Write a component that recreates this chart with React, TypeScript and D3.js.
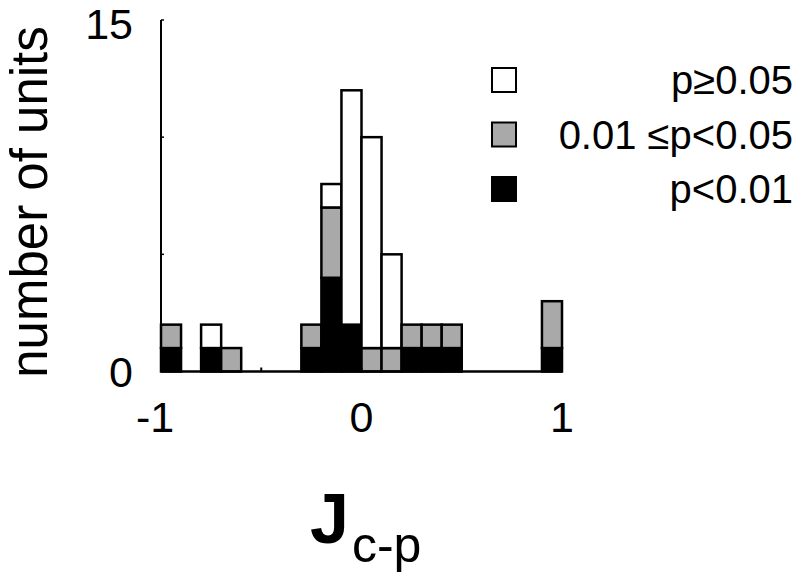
import React, { useRef, useEffect } from "react";
import * as d3 from "d3";

// left edge of each bin (width 0.1)
const binStarts = [-1, -0.9, -0.8, -0.7, -0.6, -0.5, -0.4, -0.3, -0.2, -0.1, 0, 0.1, 0.2, 0.3, 0.4, 0.5, 0.6, 0.7, 0.8, 0.9];
const countP001 = [1, 0, 1, 0, 0, 0, 0, 1, 4, 2, 0, 0, 1, 1, 1, 0, 0, 0, 0, 1];
const countP005 = [1, 0, 0, 1, 0, 0, 0, 1, 3, 0, 1, 1, 1, 1, 1, 0, 0, 0, 0, 2];
const countNs = [0, 0, 1, 0, 0, 0, 0, 0, 1, 10, 9, 4, 0, 0, 0, 0, 0, 0, 0, 0];

const xTicks = [-1, 0, 1];
const yTicks = [0, 15];
const legendLabels = ["p\u22650.05", "0.01 \u2264p<0.05", "p<0.01"];
const legendColors = ["#ffffff", "#a9a9a9", "#000000"];

const FONT = "'Liberation Sans', Arial, sans-serif";

const App = () => {
  const ref = useRef(null);

  useEffect(() => {
    if (!ref.current) return;
    const svg = d3.select(ref.current);
    svg.selectAll("*").remove();

    const x = d3.scaleLinear().domain([-1, 1]).range([161, 562]);
    const y = d3.scaleLinear().domain([0, 15]).range([371.5, 20]);

    // stacked segments: black at bottom, gray, then white
    const rows = binStarts.map((b, i) => ({
      x0: b,
      segs: [
        { v: countP001[i], c: "#000000" },
        { v: countP005[i], c: "#a9a9a9" },
        { v: countNs[i], c: "#ffffff" },
      ],
    }));

    const g = svg.append("g");
    rows.forEach((r) => {
      let base = 0;
      r.segs.forEach((s) => {
        if (s.v > 0) {
          g.append("rect")
            .attr("x", x(r.x0))
            .attr("width", x(r.x0 + 0.1) - x(r.x0))
            .attr("y", y(base + s.v))
            .attr("height", y(base) - y(base + s.v))
            .attr("fill", s.c)
            .attr("stroke", "#000")
            .attr("stroke-width", 2.5);
        }
        base += s.v;
      });
    });

    // axes
    svg.append("line")
      .attr("x1", x(-1)).attr("x2", x(-1))
      .attr("y1", y(15)).attr("y2", y(0))
      .attr("stroke", "#000").attr("stroke-width", 2);
    svg.append("line")
      .attr("x1", x(-1)).attr("x2", x(1))
      .attr("y1", y(0)).attr("y2", y(0))
      .attr("stroke", "#000").attr("stroke-width", 2.5);

    // small inward ticks
    [5, 10, 15].forEach((v) => {
      svg.append("line")
        .attr("x1", x(-1)).attr("x2", x(-1) + 3)
        .attr("y1", y(v)).attr("y2", y(v))
        .attr("stroke", "#000").attr("stroke-width", 1.5);
    });
    [-0.5, 0, 0.5].forEach((v) => {
      svg.append("line")
        .attr("x1", x(v)).attr("x2", x(v))
        .attr("y1", y(0)).attr("y2", y(0) - 4)
        .attr("stroke", "#000").attr("stroke-width", 2);
    });

    // tick labels
    svg.selectAll(".ytl")
      .data(yTicks)
      .enter()
      .append("text")
      .attr("x", 133)
      .attr("y", (d) => (d === 15 ? y(d) + 19 : y(d) + 15))
      .attr("text-anchor", "end")
      .attr("font-family", FONT)
      .attr("font-size", 43)
      .text((d) => d);

    svg.selectAll(".xtl")
      .data(xTicks)
      .enter()
      .append("text")
      .attr("x", (d) => x(d) + (d < 0 ? -6 : 0))
      .attr("y", 432)
      .attr("text-anchor", "middle")
      .attr("font-family", FONT)
      .attr("font-size", 43)
      .text((d) => d);

    // axis titles
    svg.append("text")
      .attr("transform", "translate(47,202) rotate(-90)")
      .attr("text-anchor", "middle")
      .attr("font-family", FONT)
      .attr("font-size", 51)
      .text("number of units");

    const xl = svg.append("text")
      .attr("x", 310)
      .attr("y", 543)
      .attr("font-family", FONT);
    xl.append("tspan").attr("font-size", 70).attr("font-weight", "bold").text("J");
    xl.append("tspan").attr("font-size", 50).attr("dy", 19).attr("dx", 3).text("c-p");

    // legend
    const leg = svg.append("g");
    legendLabels.forEach((lab, i) => {
      const cy = 80 + i * 54.5;
      leg.append("rect")
        .attr("x", 492).attr("y", cy - 12)
        .attr("width", 24).attr("height", 24)
        .attr("fill", legendColors[i])
        .attr("stroke", "#000").attr("stroke-width", 2);
      leg.append("text")
        .attr("x", 793).attr("y", cy + 14)
        .attr("text-anchor", "end")
        .attr("font-family", FONT)
        .attr("font-size", 40)
        .text(lab);
    });
  }, []);

  return (
    <svg
      ref={ref}
      width={800}
      height={576}
      style={{ position: "absolute", left: 0, top: 0, background: "#fff" }}
    />
  );
};

export default App;
